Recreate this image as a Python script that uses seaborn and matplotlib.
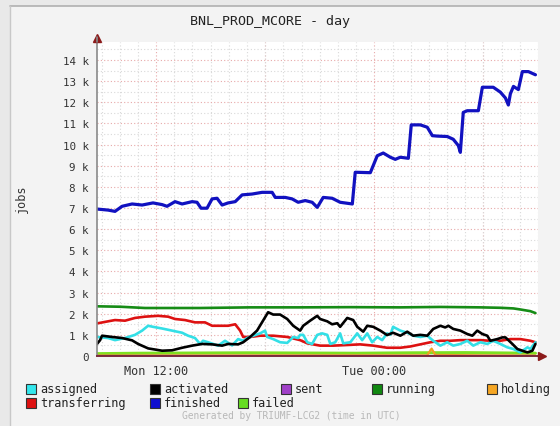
import numpy as np
import pandas as pd
import matplotlib
matplotlib.use("Agg")
import matplotlib.pyplot as plt
import seaborn as sns
from matplotlib.patches import Rectangle
from matplotlib.lines import Line2D
from matplotlib.ticker import MultipleLocator, FixedLocator, FuncFormatter

# ---------------- data (hours since Mon 00:00 UTC, values in jobs) ----------------
finished_t = [8.75, 9.36, 9.74, 10.13, 10.68, 11.23, 11.83, 12.33, 12.60, 13.04, 13.43, 13.98,
              14.25, 14.47, 14.80, 15.08, 15.35, 15.63, 15.96, 16.35, 16.73, 17.28, 17.83, 18.38,
              18.55, 19.10, 19.48, 19.81, 20.20, 20.58, 20.86, 21.19, 21.68, 22.12, 22.79, 22.95,
              23.78, 24.16, 24.49, 24.88, 25.15, 25.43, 25.87, 26.03, 26.53, 26.91, 27.19, 27.46,
              28.01, 28.34, 28.62, 28.73, 28.89, 29.11, 29.72, 29.94, 30.54, 30.93, 31.21, 31.37,
              31.48, 31.65, 31.92, 32.14, 32.47, 32.86]
finished_v = [6950, 6900, 6840, 7080, 7190, 7140, 7240, 7160, 7080, 7300, 7190, 7300,
              7270, 6990, 6990, 7430, 7460, 7140, 7240, 7300, 7620, 7660, 7740, 7740,
              7500, 7500, 7430, 7270, 7350, 7270, 7030, 7500, 7460, 7270, 7190, 8690,
              8670, 9470, 9600, 9400, 9300, 9400, 9350, 10930, 10930, 10820, 10420, 10400,
              10380, 10250, 9950, 9630, 11520, 11600, 11600, 12710, 12710, 12480, 12200, 11870,
              12400, 12750, 12600, 13450, 13450, 13300]

running_t = [8.75, 10.02, 11.39, 14.42, 17.17, 19.92, 22.68, 25.43, 27.63, 29.83, 30.93, 31.65,
             32.03, 32.58, 32.86]
running_v = [2350, 2330, 2270, 2270, 2300, 2300, 2310, 2300, 2320, 2300, 2280, 2250,
             2200, 2120, 2030]

transferring_t = [8.81, 9.36, 9.74, 10.29, 10.84, 11.39, 12.11, 12.66, 13.04, 13.59, 14.14, 14.69,
                  15.08, 15.96, 16.35, 16.62, 16.79, 17.17, 17.72, 18.44, 19.21, 19.92, 20.31,
                  21.02, 21.74, 22.51, 23.22, 23.94, 24.70, 25.43, 25.98, 26.53, 27.08, 27.63,
                  28.18, 28.73, 29.83, 30.38, 30.93, 31.48, 32.03, 32.58, 32.86]
transferring_v = [1550, 1640, 1700, 1670, 1800, 1860, 1900, 1860, 1750, 1700, 1590, 1590,
                  1430, 1430, 1500, 1200, 900, 900, 960, 960, 900, 750, 600,
                  490, 490, 520, 550, 490, 390, 390, 450, 550, 650, 720,
                  720, 750, 750, 720, 720, 800, 800, 720, 650]

activated_t = [8.75, 8.92, 9.03, 9.58, 10.13, 10.68, 11.01, 11.56, 12.33, 12.88, 13.43, 13.98,
               14.53, 15.08, 15.63, 15.96, 16.51, 16.79, 17.17, 17.55, 17.88, 18.16, 18.44, 18.82,
               19.21, 19.54, 19.92, 20.09, 20.47, 20.86, 21.02, 21.41, 21.68, 21.96, 22.12, 22.51,
               22.84, 23.06, 23.39, 23.61, 23.94, 24.33, 24.70, 25.03, 25.43, 25.81, 26.14, 26.53,
               26.91, 27.24, 27.63, 27.90, 28.07, 28.34, 28.73, 29.11, 29.39, 29.66, 29.94, 30.21,
               30.38, 30.76, 31.04, 31.21, 31.59, 31.87, 32.14, 32.42, 32.69, 32.86]
activated_v = [570, 750, 960, 900, 850, 740, 570, 360, 250, 270, 390, 490,
               570, 550, 490, 570, 550, 650, 900, 1200, 1670, 2070, 1960, 1960,
               1750, 1430, 1200, 1430, 1670, 1900, 1750, 1640, 1500, 1550, 1380, 1800,
               1700, 1380, 1150, 1430, 1380, 1200, 990, 1100, 960, 1150, 960, 1000,
               960, 1280, 1430, 1350, 1430, 1280, 1200, 1040, 960, 1200, 1040, 960,
               720, 800, 880, 880, 570, 330, 250, 170, 250, 570]

assigned_t = [8.75, 9.36, 9.74, 10.29, 10.84, 11.23, 11.56, 11.83, 12.33, 12.88, 13.43, 13.76,
              14.14, 14.42, 14.58, 14.86, 15.41, 15.79, 16.18, 16.51, 16.79, 17.01, 17.34, 17.72,
              17.99, 18.11, 18.44, 18.82, 19.21, 19.54, 19.81, 19.92, 20.09, 20.31, 20.58, 20.86,
              21.13, 21.41, 21.58, 21.85, 22.12, 22.29, 22.68, 23.06, 23.33, 23.61, 23.88, 24.16,
              24.43, 24.70, 24.88, 25.03, 25.43, 25.81, 26.14, 26.53, 26.91, 27.24, 27.63, 28.01,
              28.34, 28.73, 29.11, 29.44, 29.83, 30.21, 30.54, 30.93, 31.31, 31.65, 32.03, 32.42,
              32.58, 32.86]
assigned_v = [900, 850, 750, 850, 1000, 1200, 1430, 1380, 1300, 1200, 1100, 960,
              850, 570, 720, 650, 490, 720, 500, 800, 720, 850, 960, 1070,
              1200, 900, 800, 650, 620, 900, 850, 1000, 1000, 650, 570, 1000,
              1070, 1000, 570, 650, 1070, 600, 650, 1070, 750, 1070, 650, 900,
              750, 1070, 1000, 1380, 1200, 1100, 960, 900, 960, 720, 490, 650,
              490, 570, 720, 490, 650, 570, 720, 570, 410, 330, 170, 410,
              330, 650]

failed_t = [8.75, 11.0, 14.0, 17.0, 20.0, 23.0, 26.0, 29.0, 31.5, 32.86]
failed_v = [110, 130, 140, 150, 140, 130, 150, 160, 140, 130]

holding_t = [8.75, 20.0, 26.9, 27.15, 27.35, 30.0, 32.86]
holding_v = [20, 30, 30, 350, 50, 30, 20]

sent_t = [8.75, 32.86]
sent_v = [0, 0]

# ---------------- figure ----------------
W, H = 560, 427
sns.set_style("white")
plt.rcParams["font.family"] = ["DejaVu Sans Mono", "DejaVu Sans"]

fig = plt.figure(figsize=(W / 100, H / 100), dpi=100)
fig.patch.set_facecolor("#e9e9e9")

def fx(px):
    return px / W

def fy(py):
    return 1 - py / H

# panel background
fig.patches.append(Rectangle((fx(10), 0), 1 - fx(10), fy(7), transform=fig.transFigure,
                             facecolor="#f3f3f3", edgecolor="none", zorder=-10))
fig.lines.append(Line2D([fx(10), 1], [fy(7), fy(7)], transform=fig.transFigure, color="#b0b0b0", lw=1.2))
fig.lines.append(Line2D([fx(10), fx(10)], [0, fy(7)], transform=fig.transFigure, color="#c8c8c8", lw=1.0))

ax = fig.add_axes([fx(97), fy(357), fx(538) - fx(97), fy(43) - fy(357)])
ax.set_facecolor("white")

series = [
    ("running", running_t, running_v, "#168c16", 1.9),
    ("failed", failed_t, failed_v, "#7fe020", 2.2),
    ("holding", holding_t, holding_v, "#f0a020", 1.6),
    ("sent", sent_t, sent_v, "#9b3fb5", 1.6),
    ("transferring", transferring_t, transferring_v, "#dd1111", 1.9),
    ("assigned", assigned_t, assigned_v, "#33dfe6", 1.9),
    ("activated", activated_t, activated_v, "#000000", 1.9),
    ("finished", finished_t, finished_v, "#1111c0", 2.3),
]
for name, t, v, c, lw in series:
    df = pd.DataFrame({"t": t, "v": v})
    sns.lineplot(data=df, x="t", y="v", ax=ax, color=c, lw=lw,
                 estimator=None, sort=False, legend=False)

ax.set_xlim(8.75, 33.0)
ax.set_ylim(0, 14850)

# grid
ax.yaxis.set_major_locator(MultipleLocator(1000))
ax.yaxis.set_minor_locator(MultipleLocator(500))
ax.xaxis.set_major_locator(FixedLocator([12, 24]))
ax.xaxis.set_minor_locator(MultipleLocator(1))
ax.grid(which="minor", axis="both", color="#d9d9d9", linestyle=(0, (1, 2)), lw=0.8)
ax.grid(which="major", axis="y", color="#e7a9a9", linestyle=(0, (1, 2)), lw=0.8)
ax.grid(which="major", axis="x", color="#e7a9a9", linestyle=(0, (1, 2)), lw=0.8)
for xv in [18, 30]:
    ax.axvline(xv, color="#e7a9a9", linestyle=(0, (1, 2)), lw=0.8, zorder=0.5)
ax.set_axisbelow(True)

ax.yaxis.set_major_formatter(FuncFormatter(lambda v, p: "0" if v == 0 else f"{int(round(v / 1000))} k"))
ax.xaxis.set_major_formatter(FuncFormatter(lambda v, p: {12: "Mon 12:00", 24: "Tue 00:00"}.get(int(round(v)), "")))
ax.tick_params(axis="y", which="major", labelsize=7.8, colors="#333333", length=3, width=0.8,
               direction="out", pad=3)
ax.tick_params(axis="y", which="minor", length=0)
ax.tick_params(axis="x", which="major", labelsize=8.6, colors="#333333", length=3, width=0.8,
               direction="out", pad=3)
ax.tick_params(axis="x", which="minor", length=2, width=0.6, colors="#999999")
for lab in ax.get_yticklabels() + ax.get_xticklabels():
    lab.set_color("#333333")
ax.set_xlabel("")
ax.set_ylabel("")

for s in ["top", "right"]:
    ax.spines[s].set_visible(False)
ax.spines["left"].set_color("#8a8a8a")
ax.spines["left"].set_linewidth(1.2)
ax.spines["bottom"].set_color("#7a2a3a")
ax.spines["bottom"].set_linewidth(1.4)

# axis arrows
fig.lines.append(Line2D([fx(97)], [fy(39)], transform=fig.transFigure, marker="^", markersize=6,
                        color="#8b1a1a", lw=0))
fig.lines.append(Line2D([fx(97), fx(97)], [fy(43), fy(38)], transform=fig.transFigure,
                        color="#8a8a8a", lw=1.2))
fig.lines.append(Line2D([fx(538), fx(541)], [fy(357), fy(357)], transform=fig.transFigure,
                        color="#7a2a3a", lw=1.4))
fig.lines.append(Line2D([fx(542)], [fy(357)], transform=fig.transFigure, marker=">", markersize=6,
                        color="#8b1a1a", lw=0))

# title and labels
fig.text(fx(270), fy(22), "BNL_PROD_MCORE - day", ha="center", va="center", fontsize=9.6,
         color="#222222")
fig.text(fx(21), fy(199), "jobs", ha="center", va="center", rotation=90, fontsize=8.6,
         color="#333333")

# legend
leg_items = [
    ("assigned", "#33e6ec", 26, 390),
    ("activated", "#000000", 150, 390),
    ("sent", "#a040c8", 281, 390),
    ("running", "#118811", 372, 390),
    ("holding", "#f5a623", 487, 390),
    ("transferring", "#dd1111", 26, 404),
    ("finished", "#1010d0", 150, 404),
    ("failed", "#66dd22", 238, 404),
]
for name, c, px, py in leg_items:
    fig.patches.append(Rectangle((fx(px), fy(py + 5)), 10 / W, 10 / H, transform=fig.transFigure,
                                 facecolor=c, edgecolor="#333333", lw=0.8))
    fig.text(fx(px + 14), fy(py), name, ha="left", va="center", fontsize=8.6, color="#222222")

fig.text(fx(291), fy(416), "Generated by TRIUMF-LCG2 (time in UTC)", ha="center", va="center",
         fontsize=6.9, color="#b8b8b8")

fig.savefig("out.png", dpi=100, facecolor=fig.get_facecolor())
